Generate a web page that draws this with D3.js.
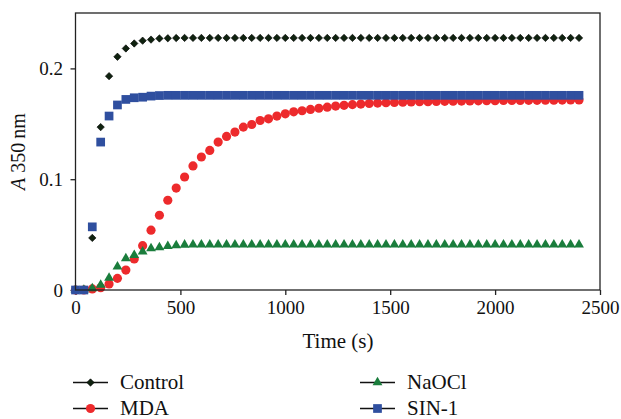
<!DOCTYPE html>
<html lang="en">
  <head>
    <meta charset="UTF-8" />
    <title>A 350 nm vs time</title>
    <script src="https://d3js.org/d3.v7.min.js"></script>
    <style>
      body {
        margin: 0;
        background-color: #ffffff;
      }
      svg text {
        font-family: "Liberation Serif", "Times New Roman", serif;
        fill: #111;
      }
      .axis line {
        stroke: #222;
        stroke-width: 1.3;
      }
      .axis path {
        display: none;
      }
    </style>
  </head>
  <body>
    <div id="chart"></div>

    <script>
      // Sampling times (s), one reading every 40 s
      const times = [
        0, 40, 80, 120, 160, 200, 240, 280, 320, 360, 400, 440, 480, 520, 560,
        600, 640, 680, 720, 760, 800, 840, 880, 920, 960, 1000, 1040, 1080,
        1120, 1160, 1200, 1240, 1280, 1320, 1360, 1400, 1440, 1480, 1520, 1560,
        1600, 1640, 1680, 1720, 1760, 1800, 1840, 1880, 1920, 1960, 2000, 2040,
        2080, 2120, 2160, 2200, 2240, 2280, 2320, 2360, 2400,
      ];

      const seriesNames = ["Control", "MDA", "NaOCl", "SIN-1"];

      const control = [
        0, 0, 0.047, 0.147, 0.193, 0.2105, 0.218, 0.2225, 0.225, 0.226, 0.227,
        0.2272, 0.2274, 0.2275, 0.2275, 0.2275, 0.2275, 0.2275, 0.2275, 0.2275,
        0.2275, 0.2275, 0.2275, 0.2275, 0.2275, 0.2275, 0.2275, 0.2275, 0.2275,
        0.2275, 0.2275, 0.2275, 0.2275, 0.2275, 0.2275, 0.2275, 0.2275, 0.2275,
        0.2275, 0.2275, 0.2275, 0.2275, 0.2275, 0.2275, 0.2275, 0.2275, 0.2275,
        0.2275, 0.2275, 0.2275, 0.2275, 0.2275, 0.2275, 0.2275, 0.2275, 0.2275,
        0.2275, 0.2275, 0.2275, 0.2275, 0.2275,
      ];

      const mda = [
        0, 0, 0.001, 0.002, 0.0054, 0.0105, 0.018, 0.028, 0.04, 0.054, 0.0675,
        0.081, 0.092, 0.102, 0.112, 0.12, 0.126, 0.1335, 0.1386, 0.1425, 0.147,
        0.1494, 0.153, 0.1545, 0.157, 0.159, 0.1608, 0.1618, 0.163, 0.164,
        0.165, 0.166, 0.1667, 0.1673, 0.1678, 0.1683, 0.1687, 0.169, 0.1693,
        0.1695, 0.1697, 0.1699, 0.17, 0.1702, 0.1703, 0.1704, 0.1705, 0.1706,
        0.1707, 0.1708, 0.1709, 0.171, 0.171, 0.1711, 0.1712, 0.1712, 0.1713,
        0.1713, 0.1714, 0.1715, 0.1715,
      ];

      const naocl = [
        0, 0, 0.0015, 0.0045, 0.011, 0.021, 0.0285, 0.0315, 0.0345, 0.0375,
        0.0385, 0.0395, 0.0403, 0.0408, 0.041, 0.041, 0.041, 0.041, 0.041,
        0.041, 0.041, 0.041, 0.041, 0.041, 0.041, 0.041, 0.041, 0.041, 0.041,
        0.041, 0.041, 0.041, 0.041, 0.041, 0.041, 0.041, 0.041, 0.041, 0.041,
        0.041, 0.041, 0.041, 0.041, 0.041, 0.041, 0.041, 0.041, 0.041, 0.041,
        0.041, 0.041, 0.041, 0.041, 0.041, 0.041, 0.041, 0.041, 0.041, 0.041,
        0.041, 0.041,
      ];

      const sin1 = [
        0, 0, 0.057, 0.1335, 0.157, 0.167, 0.172, 0.1735, 0.174, 0.175, 0.1755,
        0.1757, 0.1757, 0.1757, 0.1757, 0.1757, 0.1757, 0.1757, 0.1757, 0.1757,
        0.1757, 0.1757, 0.1757, 0.1757, 0.1757, 0.1757, 0.1757, 0.1757, 0.1757,
        0.1757, 0.1757, 0.1757, 0.1757, 0.1757, 0.1757, 0.1757, 0.1757, 0.1757,
        0.1757, 0.1757, 0.1757, 0.1757, 0.1757, 0.1757, 0.1757, 0.1757, 0.1757,
        0.1757, 0.1757, 0.1757, 0.1757, 0.1757, 0.1757, 0.1757, 0.1757, 0.1757,
        0.1757, 0.1757, 0.1757, 0.1757, 0.1757,
      ];

      const xTicks = [0, 500, 1000, 1500, 2000, 2500];
      const yTicks = [0, 0.1, 0.2];
      const yTickLabels = ["0", "0.1", "0.2"];

      // Chart geometry
      const W = 621,
        H = 419;
      const plot = { left: 75.5, right: 600, top: 13, bottom: 290 };
      const serif = '"Liberation Serif", "Times New Roman", serif';

      const svg = d3
        .select("#chart")
        .append("svg")
        .attr("width", W)
        .attr("height", H)
        .attr("font-family", serif);

      const x = d3.scaleLinear().domain([0, 2500]).range([plot.left, plot.right]);
      const y = d3.scaleLinear().domain([0, 0.25]).range([plot.bottom, plot.top]);

      // Marker styles per series
      const styles = {
        Control: { symbol: d3.symbolSquare, size: 27, rotate: 45, fill: "#0f220f", stroke: "#000" },
        MDA: { symbol: d3.symbolCircle, size: 66, rotate: 0, fill: "#ed2a2c", stroke: "none" },
        NaOCl: { symbol: d3.symbolTriangle, size: 42, rotate: 0, fill: "#1a7d3c", stroke: "none" },
        "SIN-1": { symbol: d3.symbolSquare, size: 76, rotate: 0, fill: "#2f4f9f", stroke: "none" },
      };

      const seriesData = {
        Control: control,
        MDA: mda,
        NaOCl: naocl,
        "SIN-1": sin1,
      };

      // X axis
      const gx = svg
        .append("g")
        .attr("class", "axis")
        .attr("transform", `translate(0,${plot.bottom})`)
        .call(d3.axisBottom(x).tickValues(xTicks).tickSize(5).tickPadding(6).tickFormat(d3.format("d")));

      // Y axis
      const gy = svg
        .append("g")
        .attr("class", "axis")
        .attr("transform", `translate(${plot.left},0)`)
        .call(
          d3
            .axisLeft(y)
            .tickValues(yTicks)
            .tickSize(5)
            .tickPadding(7.5)
            .tickFormat((d, i) => yTickLabels[i])
        );

      [gx, gy].forEach((g) => {
        g.attr("font-family", serif).attr("font-size", 19);
        g.selectAll("text").attr("fill", "#111");
      });

      // Points, drawn in legend order so SIN-1 sits on top
      seriesNames.forEach((name) => {
        const st = styles[name];
        const vals = seriesData[name];
        const sym = d3.symbol().type(st.symbol).size(st.size);
        svg
          .append("g")
          .selectAll("path")
          .data(times.map((t, i) => ({ t: t, v: vals[i] })))
          .enter()
          .append("path")
          .attr("d", sym)
          .attr("transform", (d) => `translate(${x(d.t)},${y(d.v)}) rotate(${st.rotate})`)
          .attr("fill", st.fill)
          .attr("stroke", st.stroke)
          .attr("stroke-width", 0.6);
      });

      // Frame around the plot
      svg
        .append("rect")
        .attr("x", plot.left)
        .attr("y", plot.top)
        .attr("width", plot.right - plot.left)
        .attr("height", plot.bottom - plot.top)
        .attr("fill", "none")
        .attr("stroke", "#222")
        .attr("stroke-width", 1.3);

      // Axis titles
      svg
        .append("text")
        .attr("x", 338)
        .attr("y", 348)
        .attr("text-anchor", "middle")
        .attr("font-size", 21)
        .text("Time (s)");

      const yTitle = svg
        .append("text")
        .attr("text-anchor", "middle")
        .attr("transform", `translate(25,${(plot.top + plot.bottom) / 2}) rotate(-90)`)
        .attr("font-size", 20);
      yTitle.append("tspan").attr("font-style", "italic").text("A");
      yTitle.append("tspan").text(" 350\u2009nm");

      // Legend: two columns, filled top to bottom
      const legendPos = {
        Control: [73, 382.5],
        MDA: [73, 408.5],
        NaOCl: [360, 382.5],
        "SIN-1": [360, 408.5],
      };

      seriesNames.forEach((name) => {
        const st = styles[name];
        const [lx, ly] = legendPos[name];
        const g = svg.append("g").attr("transform", `translate(${lx},${ly})`);
        g.append("line")
          .attr("x1", 0)
          .attr("x2", 35)
          .attr("y1", 0)
          .attr("y2", 0)
          .attr("stroke", "#111")
          .attr("stroke-width", 1.3);
        g.append("path")
          .attr("d", d3.symbol().type(st.symbol).size(st.size)())
          .attr("transform", `translate(17.5,0) rotate(${st.rotate})`)
          .attr("fill", st.fill)
          .attr("stroke", st.stroke)
          .attr("stroke-width", 0.6);
        g.append("text")
          .attr("x", 47)
          .attr("y", 6.5)
          .attr("font-size", 21)
          .text(name);
      });
    </script>
  </body>
</html>
